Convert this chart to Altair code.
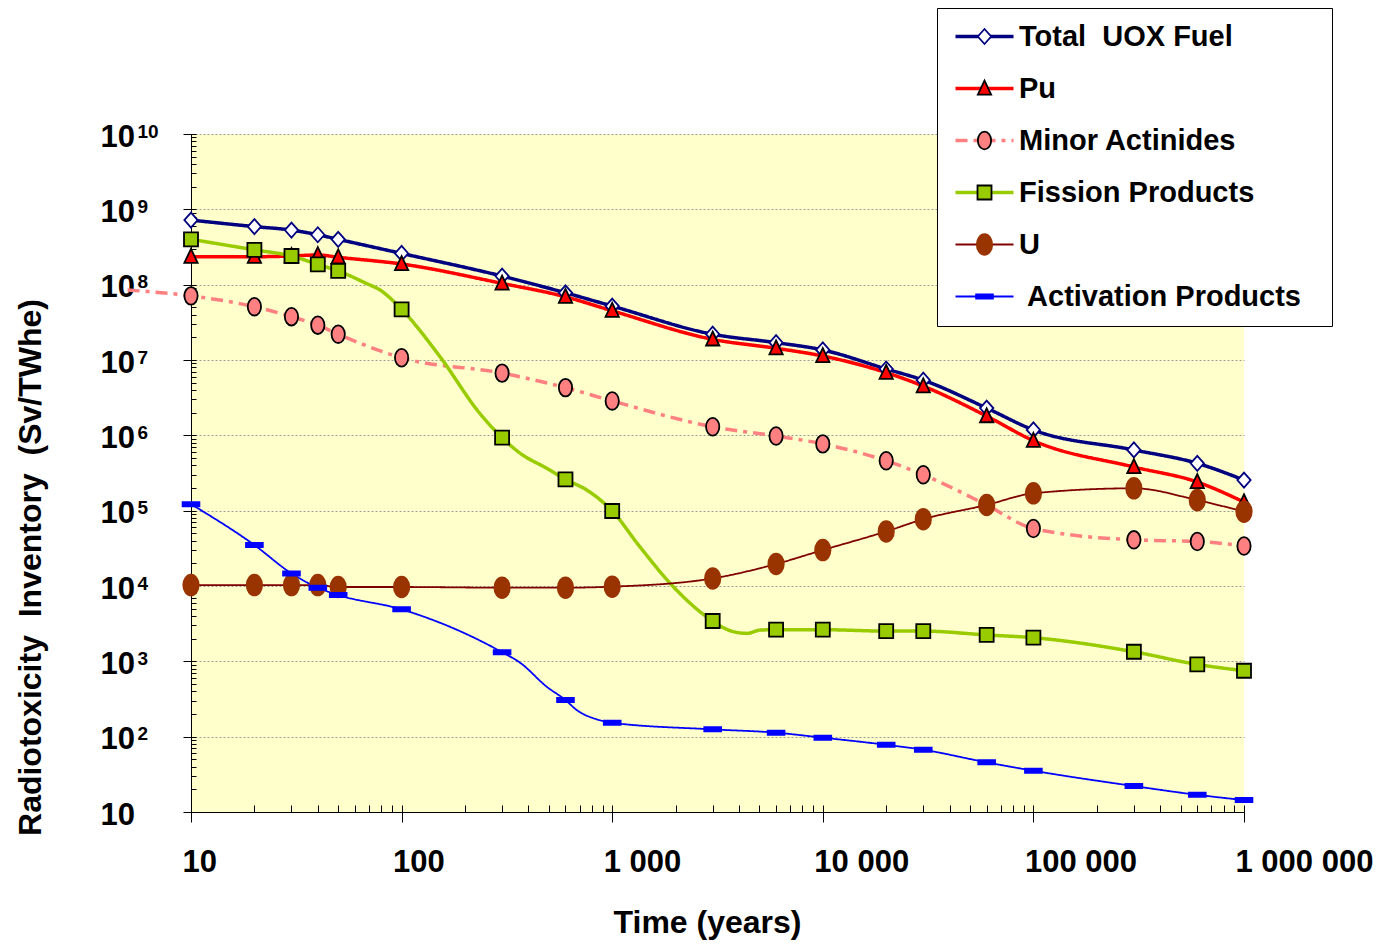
import altair as alt
import pandas as pd

FONT = "Liberation Sans"

SERIES = ["Total UOX Fuel", "Pu", "Minor Actinides", "Fission Products", "U", "Activation Products"]

# marker times (years)
TIME = [10, 20, 30, 40, 50, 100, 300, 600, 1000, 3000, 6000, 10000, 20000, 30000,
        60000, 100000, 300000, 600000, 1000000]

# marker values (Sv/TWhe)
TOTAL_UOX = [7.2e8, 5.9e8, 5.3e8, 4.6e8, 4.0e8, 2.6e8, 1.3e8, 7.8e7, 5.2e7, 2.2e7, 1.7e7,
             1.36e7, 7.6e6, 5.4e6, 2.3e6, 1.18e6, 6.4e5, 4.25e5, 2.55e5]
PU = [2.35e8, 2.35e8, 2.4e8, 2.48e8, 2.31e8, 1.88e8, 1.04e8, 6.9e7, 4.5e7, 1.88e7, 1.43e7,
      1.13e7, 6.8e6, 4.5e6, 1.8e6, 8.5e5, 3.8e5, 2.4e5, 1.3e5]
MINOR_ACT = [7.1e7, 5.1e7, 3.76e7, 2.9e7, 2.2e7, 1.07e7, 6.7e6, 4.3e6, 2.86e6, 1.3e6, 9.8e5,
             7.7e5, 4.6e5, 3.0e5, 1.19e5, 5.8e4, 4.1e4, 3.9e4, 3.4e4]
FISSION = [4.0e8, 2.9e8, 2.4e8, 1.86e8, 1.52e8, 4.7e7, 9.3e5, 2.6e5, 9.9e4, 3.43e3, 2.63e3,
           2.63e3, 2.52e3, 2.52e3, 2.24e3, 2.06e3, 1.34e3, 9.1e2, 7.5e2]
URANIUM = [1.03e4, 1.03e4, 1.03e4, 1.03e4, 9.7e3, 9.7e3, 9.5e3, 9.5e3, 9.8e3, 1.26e4, 1.96e4,
           3.0e4, 5.3e4, 7.7e4, 1.19e5, 1.7e5, 1.98e5, 1.38e5, 9.7e4]
ACTIVATION = [1.22e5, 3.5e4, 1.47e4, 9.5e3, 7.6e3, 4.9e3, 1.32e3, 3.06e2, 1.53e2, 1.25e2, 1.13e2,
              97, 78, 67, 45.6, 35.3, 22.1, 16.9, 14.4]

# extra points along the curves (between markers)
FISSION_LINE_T = [68, 79, 152, 235, 365, 489, 757, 1355, 1950, 3680, 4365, 5040]
FISSION_LINE_V = [1.04e8, 8.5e7, 1.11e7, 1.96e6, 5.8e5, 3.65e5, 1.88e5, 3.3e4, 9.8e3, 2.52e3, 2.35e3, 2.6e3]
MINOR_LINE_T = [5]
MINOR_LINE_V = [8.5e7]
ACTIVATION_LINE_T = [365, 489, 678, 844]
ACTIVATION_LINE_V = [9.6e2, 4.6e2, 2.26e2, 1.7e2]

X_TICKS = [10, 100, 1000, 10000, 100000, 1000000]
X_TICK_LABELS = ["10", "100", "1 000", "10 000", "100 000", "1 000 000"]
Y_TICKS = [10, 100, 1000, 10000, 100000, 1000000, 10000000, 100000000, 1000000000, 10000000000]
Y_TICK_BASE = "10"
Y_TICK_EXP = ["", "2", "3", "4", "5", "6", "7", "8", "9", "10"]

LINE_COLORS = ["#000080", "#FF0000", "#FF8080", "#99CC00", "#800000", "#0000FF"]
LINE_DASHES = [[1, 0], [1, 0], [12, 6, 4, 6], [1, 0], [1, 0], [1, 0]]
MARK_FILLS = ["#FFFFFF", "#FF0000", "#FF8080", "#99CC00", "#993300", "#0000FF"]
MARK_STROKES = ["#000080", "#000000", "#000000", "#000000", "#993300", "#0000FF"]
MARK_SHAPES = [
    "M0,-1.07L0.95,0L0,1.07L-0.95,0Z",
    "M0,-1.12L0.95,0.88L-0.95,0.88Z",
    "M0,-1.26A0.95,1.26,0,1,1,0,1.26A0.95,1.26,0,1,1,0,-1.26Z",
    "M-1.0,-1.0H1.0V1.0H-1.0Z",
    "M0,-1.48A1.1,1.48,0,1,1,0,1.48A1.1,1.48,0,1,1,0,-1.48Z",
    "M-1.2,-0.3H1.2V0.3H-1.2Z",
]
LINE_SYMBOL = "M-1.43,0H6.86"

markers = dict(zip(SERIES, [TOTAL_UOX, PU, MINOR_ACT, FISSION, URANIUM, ACTIVATION]))
extras = {
    "Minor Actinides": (MINOR_LINE_T, MINOR_LINE_V),
    "Fission Products": (FISSION_LINE_T, FISSION_LINE_V),
    "Activation Products": (ACTIVATION_LINE_T, ACTIVATION_LINE_V),
}

line_rows, point_rows = [], []
for name in SERIES:
    for t, v in zip(TIME, markers[name]):
        point_rows.append({"Series": name, "Time": t, "Value": v})
        line_rows.append({"Series": name, "Time": t, "Value": v})
    if name in extras:
        for t, v in zip(*extras[name]):
            line_rows.append({"Series": name, "Time": t, "Value": v})
lines_df = pd.DataFrame(line_rows)
points_df = pd.DataFrame(point_rows)


def ternary(values, labels, default):
    expr = default
    for v, lab in reversed(list(zip(values, labels))):
        expr = f"datum.value == {v} ? '{lab}' : ({expr})"
    return expr


x_label_expr = ternary(X_TICKS, X_TICK_LABELS, "''")
y_exp_expr = ternary(Y_TICKS, Y_TICK_EXP, "''")
legend_label_expr = (
    "datum.label == 'Total UOX Fuel' ? 'Total\u00a0 UOX Fuel' : "
    "(datum.label == 'Activation Products' ? '\u200b\u00a0Activation Products\u00a0\u00a0\u200b' : datum.label)"
)

X_MINOR = [m * 10 ** k for k in range(1, 6) for m in range(1, 10)] + [1000000]
Y_MINOR = [m * 10 ** k for k in range(1, 10) for m in range(1, 10)] + [10000000000]

x_scale = alt.Scale(type="log", domain=[10, 1000000], nice=False)
y_scale = alt.Scale(type="log", domain=[10, 10000000000], nice=False)

LEGEND_Y = -126
legend_lines = alt.Legend(
    title=None, orient="none", direction="vertical", legendX=746, legendY=LEGEND_Y, padding=14,
    symbolSize=196, labelFont=FONT, labelFontSize=29, labelFontWeight="bold",
    labelColor="black", rowPadding=22, labelLimit=500, labelExpr=legend_label_expr,
    fillColor="white", strokeColor="black", symbolType=LINE_SYMBOL, labelOffset=39,
    symbolStrokeWidth=alt.ExprRef(expr="datum.value == 'U' || datum.value == 'Activation Products' ? 2 : 3.5"),
)
legend_marks = alt.Legend(
    title=None, orient="none", direction="vertical", legendX=765, legendY=LEGEND_Y, padding=14,
    symbolSize=196, labelFont=FONT, labelFontSize=29, labelFontWeight="bold",
    rowPadding=22, labelExpr="''", symbolStrokeWidth=1.8,
)

x_major = alt.Axis(
    orient="bottom", values=X_TICKS, labelExpr=x_label_expr, labelFont=FONT, labelFontSize=31,
    labelFontWeight="bold", labelColor="black", labelAlign="left", labelOffset=-9,
    labelPadding=25, labelBaseline="top", labelFlush=False, labelOverlap=False,
    tickSize=10, tickColor="black", domainColor="black", grid=False,
    title="Time (years)", titleFont=FONT, titleFontSize=32, titleFontWeight="bold",
    titleColor="black", titleX=516, titleY=120, titleAlign="center", titleBaseline="alphabetic",
)
y_major = alt.Axis(
    orient="left", values=Y_TICKS, labelExpr=f"'{Y_TICK_BASE}'", labelFont=FONT, labelFontSize=31,
    labelFontWeight="bold", labelColor="black", labelAlign="left", labelPadding=83,
    labelBaseline="middle", labelOffset=3, labelFlush=False, labelOverlap=False,
    tickSize=8, tickColor="black", domainColor="black",
    grid=True, gridColor="#9a9a9a", gridDash=[2, 2], gridWidth=1,
    title="Radiotoxicity\u00a0 Inventory\u00a0 (Sv/TWhe)", titleFont=FONT, titleFontSize=32,
    titleFontWeight="bold", titleColor="black", titleAngle=270, titleX=-161, titleY=433,
    titleAlign="center", titleBaseline="middle",
)
x_minor = alt.Axis(orient="bottom", values=X_MINOR, labels=False, tickSize=7, offset=-7,
                   domain=False, grid=False, title=None, tickColor="black")
y_minor = alt.Axis(
    orient="left", values=Y_MINOR, labelExpr=y_exp_expr, labelFont=FONT, labelFontSize=19,
    labelFontWeight="bold", labelColor="black", labelAlign="left", labelPadding=54,
    labelBaseline="middle", labelOffset=-3, labelFlush=False, labelOverlap=False,
    tickSize=5, offset=-5, domain=False, grid=False, title=None, tickColor="black",
)

lines = alt.Chart(lines_df).mark_line(interpolate="monotone", clip=False).encode(
    x=alt.X("Time:Q", scale=x_scale, axis=x_major),
    y=alt.Y("Value:Q", scale=y_scale, axis=y_major),
    stroke=alt.Stroke("Series:N", scale=alt.Scale(domain=SERIES, range=LINE_COLORS), legend=legend_lines),
    strokeDash=alt.StrokeDash("Series:N", scale=alt.Scale(domain=SERIES, range=LINE_DASHES), legend=legend_lines),
    strokeWidth=alt.condition(
        alt.FieldOneOfPredicate(field="Series", oneOf=["U", "Activation Products"]),
        alt.value(1.8), alt.value(3.5)),
)

points = alt.Chart(points_df).mark_point(filled=True, opacity=1, size=196, strokeWidth=1.8).encode(
    x=alt.X("Time:Q", scale=x_scale, axis=x_minor),
    y=alt.Y("Value:Q", scale=y_scale, axis=y_minor),
    shape=alt.Shape("Series:N", scale=alt.Scale(domain=SERIES, range=MARK_SHAPES), legend=legend_marks),
    fill=alt.Fill("Series:N", scale=alt.Scale(domain=SERIES, range=MARK_FILLS), legend=legend_marks),
    stroke=alt.Stroke("Series:N", scale=alt.Scale(domain=SERIES, range=MARK_STROKES), legend=legend_marks),
)

chart = (
    alt.layer(lines, points)
    .resolve_scale(stroke="independent", strokeDash="independent", shape="independent", fill="independent")
    .resolve_axis(x="independent", y="independent")
    .properties(
        width=1053, height=678,
        autosize=alt.AutoSizeParams(type="none"),
        padding={"left": 183, "top": 126, "right": 132, "bottom": 131},
    )
    .configure(font=FONT, background="white")
    .configure_view(fill="#FFFFCC", strokeWidth=0)
)

chart.save("out.html", embed_options={"renderer": "svg", "actions": False})
